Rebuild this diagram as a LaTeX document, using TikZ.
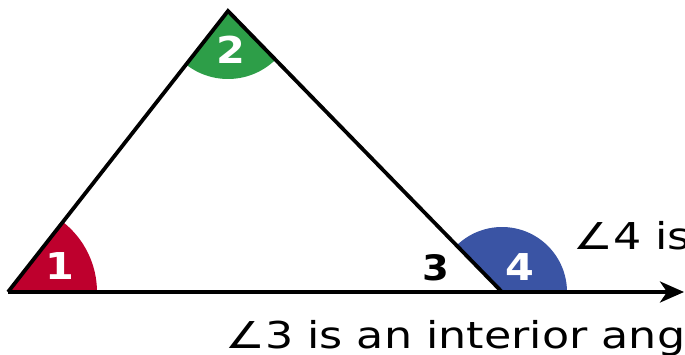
\documentclass[tikz,border=0pt]{standalone}
\usepackage{fontspec}
\setmainfont{DejaVu Sans}
\usetikzlibrary{arrows.meta,calc}
\definecolor{angred}{RGB}{190,0,45}
\definecolor{anggreen}{RGB}{45,158,72}
\definecolor{angblue}{RGB}{58,84,164}
\tikzset{
  side/.style={line width=3.8pt,black,line join=miter},
  numlabel/.style={text=white,font=\fontsize{37}{40}\selectfont\bfseries,inner sep=0pt,xscale=1.12},
  caption/.style={font=\fontsize{37}{40}\selectfont,inner sep=0pt,anchor=base west,text=black,xscale=1.2}
}
\begin{document}
\begin{tikzpicture}[x=1pt,y=1pt]
\useasboundingbox (0,0) rectangle (685,354);
\coordinate (A) at (8,62);
\coordinate (B) at (228,343);
\coordinate (C) at (502,62);
\coordinate (E) at (684,62);
% angle sectors
\fill[angred] (A) -- ++(0:89) arc[start angle=0,end angle=51.9,radius=89] -- cycle;
\fill[anggreen] (B) -- ++(231.9:68) arc[start angle=231.9,end angle=314.3,radius=68] -- cycle;
\fill[angblue] (C) -- ++(0:65) arc[start angle=0,end angle=134.3,radius=65] -- cycle;
% sides
\draw[side] (A) -- (B) -- (C);
\draw[side,-{Stealth[length=24pt,width=21pt,inset=7pt]}] (A) -- (E);
% labels
\node[numlabel] (n1) at (60,88) {1};
\node[numlabel] (n2) at (231,304) {2};
\node[numlabel] (n4) at (520,87) {4};
\node[font=\fontsize{35}{38}\selectfont\bfseries,inner sep=0pt,xscale=1.1] (n3) at (436,86) {3};
\node[caption] (t4) at (573,105) {∠4 is};
\node[caption] (t3) at (225,6) {∠3 is an interior ang};
\end{tikzpicture}
\end{document}
